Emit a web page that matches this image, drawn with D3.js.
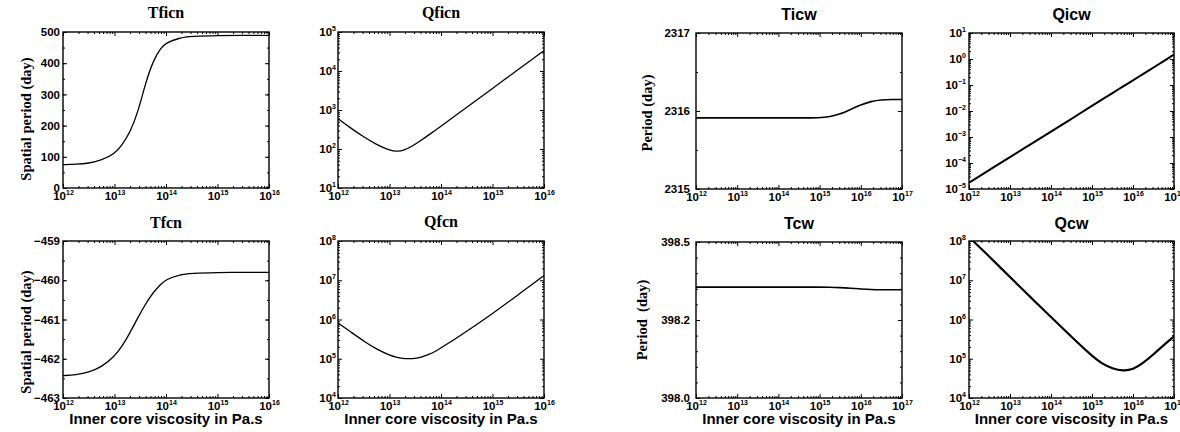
<!DOCTYPE html>
<html>
<head>
<meta charset="utf-8">
<script src="https://cdn.jsdelivr.net/npm/d3@7"></script>
<style>
  body { margin: 0; background: #fff; }
  svg { display: block; }
</style>
</head>
<body>
<svg id="fig" width="1180" height="432"></svg>
<script>
// Inner core viscosity grids (Pa.s)
const viscFcn = [1e12, 1.78e12, 3.16e12, 5.62e12, 1e13, 1.41e13, 2.0e13, 2.82e13, 3.98e13, 5.62e13, 7.94e13, 1e14, 1.78e14, 3.16e14, 1e15, 3.16e15, 1e16];
const viscCw  = [1e12, 3.16e12, 1e13, 3.16e13, 1e14, 3.16e14, 1e15, 1.78e15, 3.16e15, 5.62e15, 1e16, 1.78e16, 3.16e16, 5.62e16, 1e17];

// Free inner core nutation: period (day) and quality factor
const tficn = [75, 76, 79, 89, 109, 138, 178, 240, 335, 408, 449, 465, 481, 486, 489, 489, 489];
const qficn = [603, 339, 204, 129, 93, 85, 95, 120, 162, 224, 309, 380, 676, 1175, 3550, 10960, 33100];

// Free core nutation: period (day) and quality factor
const tfcn = [-462.43, -462.41, -462.35, -462.21, -461.94, -461.68, -461.34, -460.96, -460.61, -460.31, -460.10, -459.98, -459.86, -459.82, -459.803, -459.80, -459.80];
const qfcn = [813000, 479000, 282000, 174000, 123000, 107000, 100000, 100000, 107000, 126000, 155000, 191000, 302000, 501000, 1410000, 4270000, 13200000];

// Inner core wobble: period (day) and quality factor
const ticw = [2315.912, 2315.912, 2315.912, 2315.912, 2315.912, 2315.912, 2315.912, 2315.925, 2315.96, 2316.02, 2316.08, 2316.125, 2316.143, 2316.147, 2316.148];
const qicw = [1.74e-5, 5.4e-5, 1.7e-4, 5.2e-4, 1.6e-3, 5.0e-3, 0.0158, 0.028, 0.049, 0.087, 0.151, 0.27, 0.47, 0.83, 1.48];

// Chandler wobble: period (day) and quality factor
const tcw = [398.3555, 398.3555, 398.3555, 398.3555, 398.3555, 398.3555, 398.3555, 398.3552, 398.354, 398.352, 398.3495, 398.3475, 398.347, 398.347, 398.347];
const qcw = [1.26e8, 3.98e7, 1.2e7, 3.72e6, 1.15e6, 3.63e5, 1.17e5, 7.4e4, 5.6e4, 4.9e4, 5.25e4, 7.76e4, 1.29e5, 2.24e5, 3.72e5];

// Linear y-axis ticks and their labels
const tficnTicks = [0, 100, 200, 300, 400, 500];
const tfcnTicks = [-463, -462, -461, -460, -459];
const tfcnTickLabels = ["\u2212463", "\u2212462", "\u2212461", "\u2212460", "\u2212459"];
const ticwTicks = [2315, 2316, 2317];
const tcwTicks = [398.0, 398.25, 398.5];
const tcwTickLabels = ["398.0", "398.2", "398.5"];

const SANS = "'Liberation Sans', Arial, Helvetica, sans-serif";
const SERIF = "'Liberation Serif', 'Times New Roman', serif";

const panels = [
  { id: "p1", title: "Tficn", tFont: SERIF, tY: 18, box: [63, 32, 269, 188], xExp: [12, 16], xs: viscFcn, ys: tficn,
    yLog: false, yDomain: [0, 500], yTicks: tficnTicks, yMinorStep: 50, pad: 3,
    ylabel: "Spatial period (day)", ylx: 31, yly: 119, lw: 1.3 },
  { id: "p2", title: "Qficn", tFont: SERIF, tY: 18, box: [338, 32, 544, 188], xExp: [12, 16], xs: viscFcn, ys: qficn,
    yLog: true, yExp: [1, 5], pad: 2, lw: 1.3 },
  { id: "p3", title: "Ticw", tFont: SANS, tY: 20, box: [696, 33, 902, 189], xExp: [12, 17], xs: viscCw, ys: ticw,
    yLog: false, yDomain: [2315, 2317], yTicks: ticwTicks, yMinorStep: 0.5, pad: 6,
    ylabel: "Period (day)", ylx: 652, yly: 113, lw: 1.6 },
  { id: "p4", title: "Qicw", tFont: SANS, tY: 20, box: [969, 33, 1174, 189], xExp: [12, 17], xs: viscCw, ys: qicw,
    yLog: true, yExp: [-5, 1], pad: 3, lw: 2 },
  { id: "p5", title: "Tfcn", tFont: SERIF, tY: 228, box: [63, 241, 269, 398], xExp: [12, 16], xs: viscFcn, ys: tfcn,
    yLog: false, yDomain: [-463, -459], yTicks: tfcnTicks, yTickLabels: tfcnTickLabels, yMinorStep: 0.5, pad: 3,
    ylabel: "Spatial period (day)", ylx: 31, yly: 332, xlabel: true, lw: 1.3 },
  { id: "p6", title: "Qfcn", tFont: SERIF, tY: 227, box: [338, 241, 544, 398], xExp: [12, 16], xs: viscFcn, ys: qfcn,
    yLog: true, yExp: [4, 8], pad: 2, xlabel: true, lw: 1.3 },
  { id: "p7", title: "Tcw", tFont: SANS, tY: 229, box: [696, 242, 902, 398], xExp: [12, 17], xs: viscCw, ys: tcw,
    yLog: false, yDomain: [398.0, 398.5], yTicks: tcwTicks, yTickLabels: tcwTickLabels, yMinorStep: 0.05, pad: 6,
    ylabel: "Period  (day)", ylx: 647, yly: 320, xlabel: true, lw: 1.6 },
  { id: "p8", title: "Qcw", tFont: SANS, tY: 229, box: [969, 241, 1174, 398], xExp: [12, 17], xs: viscCw, ys: qcw,
    yLog: true, yExp: [4, 8], pad: 3, xlabel: true, lw: 2.2 }
];

const svg = d3.select("#fig");

function decadeValues(lo, hi) {
  const out = [];
  for (let e = lo; e <= hi; e++) out.push(Math.pow(10, e));
  return out;
}
function logMinorValues(lo, hi) {
  const out = [];
  for (let e = lo; e < hi; e++) for (let m = 2; m <= 9; m++) out.push(m * Math.pow(10, e));
  return out;
}
function linearMinorValues(domain, step) {
  const out = [];
  const n = Math.round((domain[1] - domain[0]) / step);
  for (let i = 0; i <= n; i++) out.push(domain[0] + i * step);
  return out;
}
// "10" with a raised exponent
function powerLabel(textSel, v) {
  const e = Math.round(Math.log10(v));
  textSel.text(null);
  textSel.append("tspan").text("10");
  textSel.append("tspan").attr("dy", -5).attr("font-size", 7)
    .text(e < 0 ? "\u2212" + (-e) : String(e));
}

function styleAxis(g) {
  g.attr("font-family", SANS).attr("font-size", 11.5).attr("font-weight", "bold");
  g.select(".domain").remove();
  g.selectAll("line").attr("stroke", "#000").attr("stroke-width", 1);
}

function drawPanel(p) {
  const [L, T, R, B] = p.box;
  const g = svg.append("g");

  const x = d3.scaleLog().domain([Math.pow(10, p.xExp[0]), Math.pow(10, p.xExp[1])]).range([L, R]);
  const y = p.yLog
    ? d3.scaleLog().domain([Math.pow(10, p.yExp[0]), Math.pow(10, p.yExp[1])]).range([B, T])
    : d3.scaleLinear().domain(p.yDomain).range([B, T]);

  const xMajor = decadeValues(p.xExp[0], p.xExp[1]);
  const xMinor = logMinorValues(p.xExp[0], p.xExp[1]);
  const yMajor = p.yLog ? decadeValues(p.yExp[0], p.yExp[1]) : p.yTicks;
  const yMinor = p.yLog ? logMinorValues(p.yExp[0], p.yExp[1]) : linearMinorValues(p.yDomain, p.yMinorStep);

  // bottom axis with labels
  const gb = g.append("g").attr("transform", `translate(0,${B})`)
    .call(d3.axisBottom(x).tickValues(xMajor).tickSizeInner(-4).tickSizeOuter(0).tickPadding(3.5));
  styleAxis(gb);
  gb.selectAll(".tick text").each(function (d) { powerLabel(d3.select(this), d); });
  styleAxis(g.append("g").attr("transform", `translate(0,${B})`)
    .call(d3.axisBottom(x).tickValues(xMinor).tickSizeInner(-2).tickSizeOuter(0).tickFormat(() => "")));

  // top axis, ticks only
  styleAxis(g.append("g").attr("transform", `translate(0,${T})`)
    .call(d3.axisTop(x).tickValues(xMajor).tickSizeInner(-4).tickSizeOuter(0).tickFormat(() => "")));
  styleAxis(g.append("g").attr("transform", `translate(0,${T})`)
    .call(d3.axisTop(x).tickValues(xMinor).tickSizeInner(-2).tickSizeOuter(0).tickFormat(() => "")));

  // left axis with labels
  const gl = g.append("g").attr("transform", `translate(${L},0)`)
    .call(d3.axisLeft(y).tickValues(yMajor).tickSizeInner(-4).tickSizeOuter(0).tickPadding(p.pad));
  styleAxis(gl);
  if (p.yLog) {
    gl.selectAll(".tick text").each(function (d) { powerLabel(d3.select(this), d); });
  } else {
    const labels = p.yTickLabels || p.yTicks.map(String);
    gl.selectAll(".tick text").text((d, i) => labels[i]);
  }
  styleAxis(g.append("g").attr("transform", `translate(${L},0)`)
    .call(d3.axisLeft(y).tickValues(yMinor).tickSizeInner(-2).tickSizeOuter(0).tickFormat(() => "")));

  // right axis, ticks only
  styleAxis(g.append("g").attr("transform", `translate(${R},0)`)
    .call(d3.axisRight(y).tickValues(yMajor).tickSizeInner(-4).tickSizeOuter(0).tickFormat(() => "")));
  styleAxis(g.append("g").attr("transform", `translate(${R},0)`)
    .call(d3.axisRight(y).tickValues(yMinor).tickSizeInner(-2).tickSizeOuter(0).tickFormat(() => "")));

  // curve, clipped to the plot box
  g.append("clipPath").attr("id", "clip-" + p.id)
    .append("rect").attr("x", L).attr("y", T).attr("width", R - L).attr("height", B - T);
  const line = d3.line().x(d => x(d[0])).y(d => y(d[1])).curve(d3.curveBasis);
  g.append("path")
    .attr("clip-path", `url(#clip-${p.id})`)
    .attr("d", line(p.xs.map((v, i) => [v, p.ys[i]])))
    .attr("fill", "none").attr("stroke", "#000").attr("stroke-width", p.lw)
    .attr("stroke-linejoin", "round");

  // frame
  g.append("rect").attr("x", L).attr("y", T).attr("width", R - L).attr("height", B - T)
    .attr("fill", "none").attr("stroke", "#000").attr("stroke-width", 1.4);

  // title
  g.append("text").attr("x", (L + R) / 2).attr("y", p.tY)
    .attr("text-anchor", "middle").attr("font-family", p.tFont)
    .attr("font-weight", "bold").attr("font-size", 16).text(p.title);

  // y label
  if (p.ylabel) {
    g.append("text")
      .attr("transform", `translate(${p.ylx},${p.yly}) rotate(-90)`)
      .attr("text-anchor", "middle").attr("font-family", SERIF)
      .attr("font-weight", "bold").attr("font-size", 14.5)
      .style("white-space", "pre").text(p.ylabel);
  }

  // x label
  if (p.xlabel) {
    g.append("text").attr("x", (L + R) / 2).attr("y", 424)
      .attr("text-anchor", "middle").attr("font-family", SANS)
      .attr("font-weight", "bold").attr("font-size", 15)
      .text("Inner core viscosity in Pa.s");
  }
}

panels.forEach(drawPanel);
</script>
</body>
</html>
